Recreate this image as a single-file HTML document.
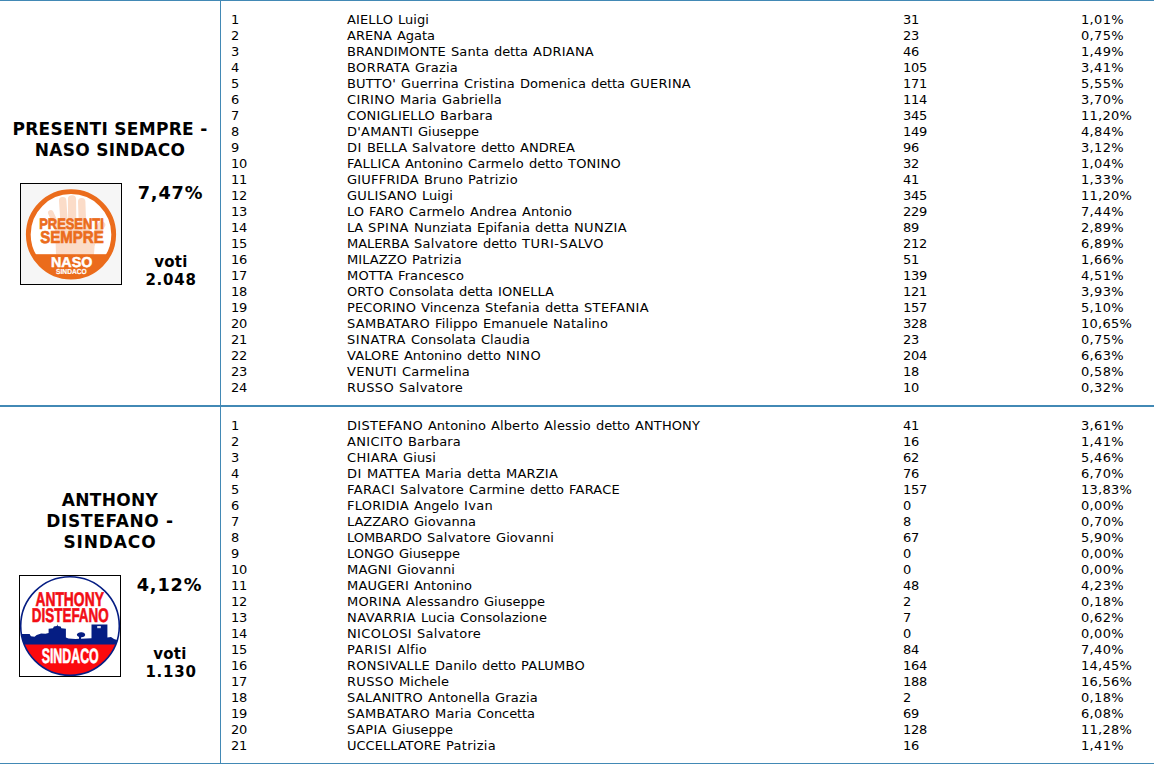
<!DOCTYPE html>
<html lang="it">
<head>
<meta charset="utf-8">
<title>Liste</title>
<style>
html,body{margin:0;padding:0;background:#fff;}
body{width:1154px;height:764px;overflow:hidden;position:relative;font-family:"DejaVu Sans","Liberation Sans",sans-serif;font-size:13px;color:#000;}
.hl{position:absolute;left:0;width:1154px;background:#4289b5;}
.vl{position:absolute;left:220px;width:1px;top:0;height:764px;background:#4289b5;}
.list{position:absolute;left:0;width:1154px;}
.r{position:relative;height:16px;line-height:16px;white-space:nowrap;word-spacing:0.865px;}
.w{display:inline-block;position:static !important;}
.r>span{position:absolute;top:0;}
.c1{left:231px;}
.c2{left:347px;}
.c3{left:903px;}
.c4{left:1081px;}
.title{position:absolute;left:0;width:220px;text-align:center;font-weight:bold;font-size:17px;line-height:21px;letter-spacing:0.3px;}
.lg{position:absolute;display:block;}
.pct{position:absolute;font-weight:bold;font-size:17px;line-height:20px;letter-spacing:0.8px;text-align:center;width:90px;left:125px;}
.pct span{display:inline-block;transform:scaleX(1.04);}
.vn{letter-spacing:0.75px;}
.tb{letter-spacing:0.64px;}
.tc{letter-spacing:0.87px;}
.voti{letter-spacing:0.3px;position:absolute;font-weight:bold;font-size:15px;line-height:18px;text-align:center;width:90px;left:125px;}
</style>
</head>
<body>
<div class="hl" style="top:0;height:1px;"></div>
<div class="hl" style="top:405px;height:2px;"></div>
<div class="hl" style="top:763px;height:1px;"></div>
<div class="vl"></div>

<div class="title" style="top:119px;">PRESENTI SEMPRE -<br>NASO SINDACO</div>
<svg class="lg" style="left:20px;top:183px;" width="102" height="102" viewBox="-1 -1 102 102">
<rect x="-0.5" y="-0.5" width="101" height="101" fill="#f6f6f6" stroke="#000" stroke-width="1"/>
<defs><clipPath id="c1"><circle cx="50" cy="50.4" r="43"/></clipPath></defs>
<circle cx="50" cy="50.4" r="42.7" fill="#fff" stroke="#eb6c1c" stroke-width="4.8"/>
<g fill="none" stroke="#fbdcc8" stroke-linecap="round" stroke-linejoin="round">
<path d="M29.8 28.8 L38 47" stroke-width="5.6"/>
<path d="M41.7 16.8 L43.5 45" stroke-width="7.4"/>
<path d="M51 15.4 L51.3 45" stroke-width="8.2"/>
<path d="M60.7 17.6 L61.6 45" stroke-width="7.4"/>
<path d="M80.5 41 L70 60" stroke-width="7.5"/>
<path d="M36 43 L64 41 L72 56 L71 70 L37 70 Z" stroke-width="4" fill="#fbdcc8"/>
</g>
<rect x="0" y="70.2" width="100" height="40" fill="#eb6c1c" clip-path="url(#c1)"/>
<g font-family="'Liberation Sans',sans-serif" font-weight="bold" text-rendering="geometricPrecision">
<text x="18.2" y="44.6" font-size="15.1" fill="#eb6c1c" stroke="#eb6c1c" stroke-width="0.7" textLength="64.6" lengthAdjust="spacingAndGlyphs">PRESENTI</text>
<text x="19.2" y="59.05" font-size="17.2" fill="#eb6c1c" stroke="#eb6c1c" stroke-width="0.7" textLength="63.5" lengthAdjust="spacingAndGlyphs">SEMPRE</text>
<text x="30" y="82.6" font-size="14.3" fill="#fff" stroke="#fff" stroke-width="0.5" textLength="41.3" lengthAdjust="spacingAndGlyphs">NASO</text>
<text x="35.1" y="89.6" font-size="7.3" fill="#fff" stroke="#fff" stroke-width="0.2" textLength="30.6" lengthAdjust="spacingAndGlyphs">SINDACO</text>
</g>
</svg>
<div class="pct" style="top:183px;"><span>7,47%</span></div>
<div class="voti" style="top:253px;left:126px;">voti<br><span class="vn">2.048</span></div>

<div class="title" style="top:490px;">ANTHONY<br><span class="tb">DISTEFANO -</span><br><span class="tc">SINDACO</span></div>
<svg class="lg" style="left:19px;top:575px;" width="102" height="102" viewBox="-1 -1 102 102">
<rect x="-0.5" y="-0.5" width="101" height="101" fill="#fff" stroke="#000" stroke-width="1"/>
<defs><clipPath id="c2"><circle cx="50" cy="50" r="49.3"/></clipPath></defs>
<g clip-path="url(#c2)">
<rect x="0" y="66" width="100" height="42" fill="#fb0a0e"/>
<path fill="#051d83" d="M0 58 L9.6 58 L10.9 60.2 L14.5 60.7 L16.7 58.9 L21.1 57.6 L25.5 57.7 L28.6 57.1 L28.6 52.7 L33 52.3 L33.9 50.5 L36.8 50 L37.3 48.3 L37.8 50 L40.6 50.5 L41.4 52.3 L45.9 52.7 L45.9 61.5 L48.5 62.4 L55.6 62.9 L59 62.7 L59 61 A4.2 2.5 0 1 1 61.2 61.3 L61 62.7 L66.2 62.4 L71.5 62.2 L71.5 48.5 L87.4 48.5 L87.4 61.5 L91 61.1 L94 62.9 L100 65 L100 68.6 L0 68.6 Z"/>
<rect x="77.2" y="50" width="3.6" height="2.2" fill="#dfe3f3"/>
</g>
<circle cx="50" cy="50" r="49.3" fill="none" stroke="#051d83" stroke-width="1.6"/>
<g font-family="'Liberation Sans',sans-serif" font-weight="bold" text-rendering="geometricPrecision">
<text x="15.4" y="30.3" font-size="19.8" fill="#f20d14" stroke="#f20d14" stroke-width="0.6" textLength="68.5" lengthAdjust="spacingAndGlyphs">ANTHONY</text>
<text x="11.8" y="46.2" font-size="19.8" fill="#f20d14" stroke="#f20d14" stroke-width="0.6" textLength="76.95" lengthAdjust="spacingAndGlyphs">DISTEFANO</text>
<text x="21.7" y="86.7" font-size="20.8" fill="#fff" stroke="#fff" stroke-width="0.6" textLength="57" lengthAdjust="spacingAndGlyphs">SINDACO</text>
</g>
</svg>
<div class="pct" style="top:575px;left:124px;"><span>4,12%</span></div>
<div class="voti" style="top:645px;left:125px;">voti<br><span class="vn" style="position:relative;left:1px;">1.130</span></div>

<div class="list" style="top:12px;">
<div class="r"><span class="c1"><span class="w" style="width:8px;letter-spacing:-0.281px">1</span></span><span class="c2"><span class="w" style="width:46px;letter-spacing:0.133px">AIELLO</span> <span class="w" style="width:31px;letter-spacing:0.053px">Luigi</span></span><span class="c3"><span class="w" style="width:16px;letter-spacing:-0.273px">31</span></span><span class="c4"><span class="w" style="width:43px;letter-spacing:0.338px">1,01%</span></span></div>
<div class="r"><span class="c1"><span class="w" style="width:8px;letter-spacing:-0.281px">2</span></span><span class="c2"><span class="w" style="width:45px;letter-spacing:0.047px">ARENA</span> <span class="w" style="width:38px;letter-spacing:-0.037px">Agata</span></span><span class="c3"><span class="w" style="width:16px;letter-spacing:-0.273px">23</span></span><span class="c4"><span class="w" style="width:43px;letter-spacing:0.338px">0,75%</span></span></div>
<div class="r"><span class="c1"><span class="w" style="width:8px;letter-spacing:-0.281px">3</span></span><span class="c2"><span class="w" style="width:99px;letter-spacing:0.162px">BRANDIMONTE</span> <span class="w" style="width:38px;letter-spacing:0.094px">Santa</span> <span class="w" style="width:34px;letter-spacing:-0.084px">detta</span> <span class="w" style="width:61px;letter-spacing:0.246px">ADRIANA</span></span><span class="c3"><span class="w" style="width:16px;letter-spacing:-0.273px">46</span></span><span class="c4"><span class="w" style="width:43px;letter-spacing:0.338px">1,49%</span></span></div>
<div class="r"><span class="c1"><span class="w" style="width:8px;letter-spacing:-0.281px">4</span></span><span class="c2"><span class="w" style="width:63px;letter-spacing:0.404px">BORRATA</span> <span class="w" style="width:43px;letter-spacing:0.201px">Grazia</span></span><span class="c3"><span class="w" style="width:24px;letter-spacing:-0.276px">105</span></span><span class="c4"><span class="w" style="width:43px;letter-spacing:0.338px">3,41%</span></span></div>
<div class="r"><span class="c1"><span class="w" style="width:8px;letter-spacing:-0.281px">5</span></span><span class="c2"><span class="w" style="width:49px;letter-spacing:0.182px">BUTTO'</span> <span class="w" style="width:58px;letter-spacing:0.176px">Guerrina</span> <span class="w" style="width:51px;letter-spacing:0.158px">Cristina</span> <span class="w" style="width:66px;letter-spacing:0.051px">Domenica</span> <span class="w" style="width:34px;letter-spacing:-0.084px">detta</span> <span class="w" style="width:61px;letter-spacing:0.243px">GUERINA</span></span><span class="c3"><span class="w" style="width:24px;letter-spacing:-0.276px">171</span></span><span class="c4"><span class="w" style="width:43px;letter-spacing:0.338px">5,55%</span></span></div>
<div class="r"><span class="c1"><span class="w" style="width:8px;letter-spacing:-0.281px">6</span></span><span class="c2"><span class="w" style="width:48px;letter-spacing:0.375px">CIRINO</span> <span class="w" style="width:37px;letter-spacing:0.178px">Maria</span> <span class="w" style="width:60px;letter-spacing:0.174px">Gabriella</span></span><span class="c3"><span class="w" style="width:24px;letter-spacing:-0.276px">114</span></span><span class="c4"><span class="w" style="width:43px;letter-spacing:0.338px">3,70%</span></span></div>
<div class="r"><span class="c1"><span class="w" style="width:8px;letter-spacing:-0.281px">7</span></span><span class="c2"><span class="w" style="width:88px;letter-spacing:0.136px">CONIGLIELLO</span> <span class="w" style="width:53px;letter-spacing:0.176px">Barbara</span></span><span class="c3"><span class="w" style="width:24px;letter-spacing:-0.276px">345</span></span><span class="c4"><span class="w" style="width:51px;letter-spacing:0.237px">11,20%</span></span></div>
<div class="r"><span class="c1"><span class="w" style="width:8px;letter-spacing:-0.281px">8</span></span><span class="c2"><span class="w" style="width:66px;letter-spacing:0.238px">D'AMANTI</span> <span class="w" style="width:61px;letter-spacing:-0.025px">Giuseppe</span></span><span class="c3"><span class="w" style="width:24px;letter-spacing:-0.276px">149</span></span><span class="c4"><span class="w" style="width:43px;letter-spacing:0.338px">4,84%</span></span></div>
<div class="r"><span class="c1"><span class="w" style="width:8px;letter-spacing:-0.281px">9</span></span><span class="c2"><span class="w" style="width:15px;letter-spacing:0.570px">DI</span> <span class="w" style="width:40px;letter-spacing:-0.163px">BELLA</span> <span class="w" style="width:64px;letter-spacing:0.266px">Salvatore</span> <span class="w" style="width:34px;letter-spacing:-0.081px">detto</span> <span class="w" style="width:55px;letter-spacing:0.036px">ANDREA</span></span><span class="c3"><span class="w" style="width:16px;letter-spacing:-0.273px">96</span></span><span class="c4"><span class="w" style="width:43px;letter-spacing:0.338px">3,12%</span></span></div>
<div class="r"><span class="c1"><span class="w" style="width:16px;letter-spacing:-0.273px">10</span></span><span class="c2"><span class="w" style="width:53px;letter-spacing:0.219px">FALLICA</span> <span class="w" style="width:58px;letter-spacing:-0.029px">Antonino</span> <span class="w" style="width:56px;letter-spacing:0.230px">Carmelo</span> <span class="w" style="width:34px;letter-spacing:-0.081px">detto</span> <span class="w" style="width:53px;letter-spacing:0.216px">TONINO</span></span><span class="c3"><span class="w" style="width:16px;letter-spacing:-0.273px">32</span></span><span class="c4"><span class="w" style="width:43px;letter-spacing:0.338px">1,04%</span></span></div>
<div class="r"><span class="c1"><span class="w" style="width:16px;letter-spacing:-0.273px">11</span></span><span class="c2"><span class="w" style="width:72px;letter-spacing:0.231px">GIUFFRIDA</span> <span class="w" style="width:39px;letter-spacing:0.059px">Bruno</span> <span class="w" style="width:50px;letter-spacing:0.291px">Patrizio</span></span><span class="c3"><span class="w" style="width:16px;letter-spacing:-0.273px">41</span></span><span class="c4"><span class="w" style="width:43px;letter-spacing:0.338px">1,33%</span></span></div>
<div class="r"><span class="c1"><span class="w" style="width:16px;letter-spacing:-0.273px">12</span></span><span class="c2"><span class="w" style="width:70px;letter-spacing:0.248px">GULISANO</span> <span class="w" style="width:31px;letter-spacing:0.053px">Luigi</span></span><span class="c3"><span class="w" style="width:24px;letter-spacing:-0.276px">345</span></span><span class="c4"><span class="w" style="width:51px;letter-spacing:0.237px">11,20%</span></span></div>
<div class="r"><span class="c1"><span class="w" style="width:16px;letter-spacing:-0.273px">13</span></span><span class="c2"><span class="w" style="width:17px;letter-spacing:-0.008px">LO</span> <span class="w" style="width:35px;letter-spacing:0.137px">FARO</span> <span class="w" style="width:56px;letter-spacing:0.230px">Carmelo</span> <span class="w" style="width:47px;letter-spacing:0.096px">Andrea</span> <span class="w" style="width:50px;letter-spacing:0.000px">Antonio</span></span><span class="c3"><span class="w" style="width:24px;letter-spacing:-0.276px">229</span></span><span class="c4"><span class="w" style="width:43px;letter-spacing:0.338px">7,44%</span></span></div>
<div class="r"><span class="c1"><span class="w" style="width:16px;letter-spacing:-0.273px">14</span></span><span class="c2"><span class="w" style="width:16px;letter-spacing:-0.219px">LA</span> <span class="w" style="width:41px;letter-spacing:0.491px">SPINA</span> <span class="w" style="width:58px;letter-spacing:0.041px">Nunziata</span> <span class="w" style="width:53px;letter-spacing:0.068px">Epifania</span> <span class="w" style="width:34px;letter-spacing:-0.084px">detta</span> <span class="w" style="width:53px;letter-spacing:0.398px">NUNZIA</span></span><span class="c3"><span class="w" style="width:16px;letter-spacing:-0.273px">89</span></span><span class="c4"><span class="w" style="width:43px;letter-spacing:0.338px">2,89%</span></span></div>
<div class="r"><span class="c1"><span class="w" style="width:16px;letter-spacing:-0.273px">15</span></span><span class="c2"><span class="w" style="width:62px;letter-spacing:-0.060px">MALERBA</span> <span class="w" style="width:64px;letter-spacing:0.266px">Salvatore</span> <span class="w" style="width:34px;letter-spacing:-0.081px">detto</span> <span class="w" style="width:82px;letter-spacing:0.487px">TURI-SALVO</span></span><span class="c3"><span class="w" style="width:24px;letter-spacing:-0.276px">212</span></span><span class="c4"><span class="w" style="width:43px;letter-spacing:0.338px">6,89%</span></span></div>
<div class="r"><span class="c1"><span class="w" style="width:16px;letter-spacing:-0.273px">16</span></span><span class="c2"><span class="w" style="width:60px;letter-spacing:0.067px">MILAZZO</span> <span class="w" style="width:50px;letter-spacing:0.289px">Patrizia</span></span><span class="c3"><span class="w" style="width:16px;letter-spacing:-0.273px">51</span></span><span class="c4"><span class="w" style="width:43px;letter-spacing:0.338px">1,66%</span></span></div>
<div class="r"><span class="c1"><span class="w" style="width:16px;letter-spacing:-0.273px">17</span></span><span class="c2"><span class="w" style="width:46px;letter-spacing:0.200px">MOTTA</span> <span class="w" style="width:66px;letter-spacing:0.099px">Francesco</span></span><span class="c3"><span class="w" style="width:24px;letter-spacing:-0.276px">139</span></span><span class="c4"><span class="w" style="width:43px;letter-spacing:0.338px">4,51%</span></span></div>
<div class="r"><span class="c1"><span class="w" style="width:16px;letter-spacing:-0.273px">18</span></span><span class="c2"><span class="w" style="width:37px;letter-spacing:0.125px">ORTO</span> <span class="w" style="width:65px;letter-spacing:0.040px">Consolata</span> <span class="w" style="width:34px;letter-spacing:-0.084px">detta</span> <span class="w" style="width:56px;letter-spacing:0.045px">IONELLA</span></span><span class="c3"><span class="w" style="width:24px;letter-spacing:-0.276px">121</span></span><span class="c4"><span class="w" style="width:43px;letter-spacing:0.338px">3,93%</span></span></div>
<div class="r"><span class="c1"><span class="w" style="width:16px;letter-spacing:-0.273px">19</span></span><span class="c2"><span class="w" style="width:69px;letter-spacing:0.102px">PECORINO</span> <span class="w" style="width:59px;letter-spacing:0.045px">Vincenza</span> <span class="w" style="width:55px;letter-spacing:0.160px">Stefania</span> <span class="w" style="width:34px;letter-spacing:-0.084px">detta</span> <span class="w" style="width:65px;letter-spacing:0.369px">STEFANIA</span></span><span class="c3"><span class="w" style="width:24px;letter-spacing:-0.276px">157</span></span><span class="c4"><span class="w" style="width:43px;letter-spacing:0.338px">5,10%</span></span></div>
<div class="r"><span class="c1"><span class="w" style="width:16px;letter-spacing:-0.273px">20</span></span><span class="c2"><span class="w" style="width:83px;letter-spacing:0.278px">SAMBATARO</span> <span class="w" style="width:43px;letter-spacing:0.167px">Filippo</span> <span class="w" style="width:65px;letter-spacing:0.008px">Emanuele</span> <span class="w" style="width:55px;letter-spacing:0.104px">Natalino</span></span><span class="c3"><span class="w" style="width:24px;letter-spacing:-0.276px">328</span></span><span class="c4"><span class="w" style="width:51px;letter-spacing:0.237px">10,65%</span></span></div>
<div class="r"><span class="c1"><span class="w" style="width:16px;letter-spacing:-0.273px">21</span></span><span class="c2"><span class="w" style="width:59px;letter-spacing:0.565px">SINATRA</span> <span class="w" style="width:65px;letter-spacing:0.040px">Consolata</span> <span class="w" style="width:49px;letter-spacing:0.038px">Claudia</span></span><span class="c3"><span class="w" style="width:16px;letter-spacing:-0.273px">23</span></span><span class="c4"><span class="w" style="width:43px;letter-spacing:0.338px">0,75%</span></span></div>
<div class="r"><span class="c1"><span class="w" style="width:16px;letter-spacing:-0.273px">22</span></span><span class="c2"><span class="w" style="width:52px;letter-spacing:0.130px">VALORE</span> <span class="w" style="width:58px;letter-spacing:-0.029px">Antonino</span> <span class="w" style="width:34px;letter-spacing:-0.081px">detto</span> <span class="w" style="width:35px;letter-spacing:0.371px">NINO</span></span><span class="c3"><span class="w" style="width:24px;letter-spacing:-0.276px">204</span></span><span class="c4"><span class="w" style="width:43px;letter-spacing:0.338px">6,63%</span></span></div>
<div class="r"><span class="c1"><span class="w" style="width:16px;letter-spacing:-0.273px">23</span></span><span class="c2"><span class="w" style="width:50px;letter-spacing:0.312px">VENUTI</span> <span class="w" style="width:68px;letter-spacing:0.193px">Carmelina</span></span><span class="c3"><span class="w" style="width:16px;letter-spacing:-0.273px">18</span></span><span class="c4"><span class="w" style="width:43px;letter-spacing:0.338px">0,58%</span></span></div>
<div class="r"><span class="c1"><span class="w" style="width:16px;letter-spacing:-0.273px">24</span></span><span class="c2"><span class="w" style="width:47px;letter-spacing:0.341px">RUSSO</span> <span class="w" style="width:64px;letter-spacing:0.266px">Salvatore</span></span><span class="c3"><span class="w" style="width:16px;letter-spacing:-0.273px">10</span></span><span class="c4"><span class="w" style="width:43px;letter-spacing:0.338px">0,32%</span></span></div>
</div>
<div class="list" style="top:418px;">
<div class="r"><span class="c1"><span class="w" style="width:8px;letter-spacing:-0.281px">1</span></span><span class="c2"><span class="w" style="width:76px;letter-spacing:0.290px">DISTEFANO</span> <span class="w" style="width:58px;letter-spacing:-0.029px">Antonino</span> <span class="w" style="width:48px;letter-spacing:0.121px">Alberto</span> <span class="w" style="width:47px;letter-spacing:0.196px">Alessio</span> <span class="w" style="width:34px;letter-spacing:-0.081px">detto</span> <span class="w" style="width:65px;letter-spacing:0.109px">ANTHONY</span></span><span class="c3"><span class="w" style="width:16px;letter-spacing:-0.273px">41</span></span><span class="c4"><span class="w" style="width:43px;letter-spacing:0.338px">3,61%</span></span></div>
<div class="r"><span class="c1"><span class="w" style="width:8px;letter-spacing:-0.281px">2</span></span><span class="c2"><span class="w" style="width:56px;letter-spacing:0.350px">ANICITO</span> <span class="w" style="width:53px;letter-spacing:0.176px">Barbara</span></span><span class="c3"><span class="w" style="width:16px;letter-spacing:-0.273px">16</span></span><span class="c4"><span class="w" style="width:43px;letter-spacing:0.338px">1,41%</span></span></div>
<div class="r"><span class="c1"><span class="w" style="width:8px;letter-spacing:-0.281px">3</span></span><span class="c2"><span class="w" style="width:51px;letter-spacing:0.336px">CHIARA</span> <span class="w" style="width:33px;letter-spacing:0.138px">Giusi</span></span><span class="c3"><span class="w" style="width:16px;letter-spacing:-0.273px">62</span></span><span class="c4"><span class="w" style="width:43px;letter-spacing:0.338px">5,46%</span></span></div>
<div class="r"><span class="c1"><span class="w" style="width:8px;letter-spacing:-0.281px">4</span></span><span class="c2"><span class="w" style="width:15px;letter-spacing:0.570px">DI</span> <span class="w" style="width:53px;letter-spacing:0.188px">MATTEA</span> <span class="w" style="width:37px;letter-spacing:0.178px">Maria</span> <span class="w" style="width:34px;letter-spacing:-0.084px">detta</span> <span class="w" style="width:52px;letter-spacing:0.203px">MARZIA</span></span><span class="c3"><span class="w" style="width:16px;letter-spacing:-0.273px">76</span></span><span class="c4"><span class="w" style="width:43px;letter-spacing:0.338px">6,70%</span></span></div>
<div class="r"><span class="c1"><span class="w" style="width:8px;letter-spacing:-0.281px">5</span></span><span class="c2"><span class="w" style="width:48px;letter-spacing:0.456px">FARACI</span> <span class="w" style="width:64px;letter-spacing:0.266px">Salvatore</span> <span class="w" style="width:56px;letter-spacing:0.188px">Carmine</span> <span class="w" style="width:34px;letter-spacing:-0.081px">detto</span> <span class="w" style="width:51px;letter-spacing:0.227px">FARACE</span></span><span class="c3"><span class="w" style="width:24px;letter-spacing:-0.276px">157</span></span><span class="c4"><span class="w" style="width:51px;letter-spacing:0.237px">13,83%</span></span></div>
<div class="r"><span class="c1"><span class="w" style="width:8px;letter-spacing:-0.281px">6</span></span><span class="c2"><span class="w" style="width:62px;letter-spacing:0.238px">FLORIDIA</span> <span class="w" style="width:45px;letter-spacing:0.008px">Angelo</span> <span class="w" style="width:29px;letter-spacing:0.316px">Ivan</span></span><span class="c3"><span class="w" style="width:8px;letter-spacing:-0.281px">0</span></span><span class="c4"><span class="w" style="width:43px;letter-spacing:0.338px">0,00%</span></span></div>
<div class="r"><span class="c1"><span class="w" style="width:8px;letter-spacing:-0.281px">7</span></span><span class="c2"><span class="w" style="width:62px;letter-spacing:-0.058px">LAZZARO</span> <span class="w" style="width:62px;letter-spacing:0.031px">Giovanna</span></span><span class="c3"><span class="w" style="width:8px;letter-spacing:-0.281px">8</span></span><span class="c4"><span class="w" style="width:43px;letter-spacing:0.338px">0,70%</span></span></div>
<div class="r"><span class="c1"><span class="w" style="width:8px;letter-spacing:-0.281px">8</span></span><span class="c2"><span class="w" style="width:75px;letter-spacing:-0.041px">LOMBARDO</span> <span class="w" style="width:64px;letter-spacing:0.266px">Salvatore</span> <span class="w" style="width:58px;letter-spacing:0.076px">Giovanni</span></span><span class="c3"><span class="w" style="width:16px;letter-spacing:-0.273px">67</span></span><span class="c4"><span class="w" style="width:43px;letter-spacing:0.338px">5,90%</span></span></div>
<div class="r"><span class="c1"><span class="w" style="width:8px;letter-spacing:-0.281px">9</span></span><span class="c2"><span class="w" style="width:47px;letter-spacing:-0.009px">LONGO</span> <span class="w" style="width:61px;letter-spacing:-0.025px">Giuseppe</span></span><span class="c3"><span class="w" style="width:8px;letter-spacing:-0.281px">0</span></span><span class="c4"><span class="w" style="width:43px;letter-spacing:0.338px">0,00%</span></span></div>
<div class="r"><span class="c1"><span class="w" style="width:16px;letter-spacing:-0.273px">10</span></span><span class="c2"><span class="w" style="width:45px;letter-spacing:0.297px">MAGNI</span> <span class="w" style="width:58px;letter-spacing:0.076px">Giovanni</span></span><span class="c3"><span class="w" style="width:8px;letter-spacing:-0.281px">0</span></span><span class="c4"><span class="w" style="width:43px;letter-spacing:0.338px">0,00%</span></span></div>
<div class="r"><span class="c1"><span class="w" style="width:16px;letter-spacing:-0.273px">11</span></span><span class="c2"><span class="w" style="width:62px;letter-spacing:0.174px">MAUGERI</span> <span class="w" style="width:58px;letter-spacing:-0.029px">Antonino</span></span><span class="c3"><span class="w" style="width:16px;letter-spacing:-0.273px">48</span></span><span class="c4"><span class="w" style="width:43px;letter-spacing:0.338px">4,23%</span></span></div>
<div class="r"><span class="c1"><span class="w" style="width:16px;letter-spacing:-0.273px">12</span></span><span class="c2"><span class="w" style="width:54px;letter-spacing:0.177px">MORINA</span> <span class="w" style="width:73px;letter-spacing:0.147px">Alessandro</span> <span class="w" style="width:61px;letter-spacing:-0.025px">Giuseppe</span></span><span class="c3"><span class="w" style="width:8px;letter-spacing:-0.281px">2</span></span><span class="c4"><span class="w" style="width:43px;letter-spacing:0.338px">0,18%</span></span></div>
<div class="r"><span class="c1"><span class="w" style="width:16px;letter-spacing:-0.273px">13</span></span><span class="c2"><span class="w" style="width:69px;letter-spacing:0.432px">NAVARRIA</span> <span class="w" style="width:34px;letter-spacing:0.003px">Lucia</span> <span class="w" style="width:87px;letter-spacing:0.066px">Consolazione</span></span><span class="c3"><span class="w" style="width:8px;letter-spacing:-0.281px">7</span></span><span class="c4"><span class="w" style="width:43px;letter-spacing:0.338px">0,62%</span></span></div>
<div class="r"><span class="c1"><span class="w" style="width:16px;letter-spacing:-0.273px">14</span></span><span class="c2"><span class="w" style="width:65px;letter-spacing:0.379px">NICOLOSI</span> <span class="w" style="width:64px;letter-spacing:0.266px">Salvatore</span></span><span class="c3"><span class="w" style="width:8px;letter-spacing:-0.281px">0</span></span><span class="c4"><span class="w" style="width:43px;letter-spacing:0.338px">0,00%</span></span></div>
<div class="r"><span class="c1"><span class="w" style="width:16px;letter-spacing:-0.273px">15</span></span><span class="c2"><span class="w" style="width:45px;letter-spacing:0.690px">PARISI</span> <span class="w" style="width:30px;letter-spacing:0.269px">Alfio</span></span><span class="c3"><span class="w" style="width:16px;letter-spacing:-0.273px">84</span></span><span class="c4"><span class="w" style="width:43px;letter-spacing:0.338px">7,40%</span></span></div>
<div class="r"><span class="c1"><span class="w" style="width:16px;letter-spacing:-0.273px">16</span></span><span class="c2"><span class="w" style="width:83px;letter-spacing:0.227px">RONSIVALLE</span> <span class="w" style="width:42px;letter-spacing:0.099px">Danilo</span> <span class="w" style="width:34px;letter-spacing:-0.081px">detto</span> <span class="w" style="width:64px;letter-spacing:0.263px">PALUMBO</span></span><span class="c3"><span class="w" style="width:24px;letter-spacing:-0.276px">164</span></span><span class="c4"><span class="w" style="width:51px;letter-spacing:0.237px">14,45%</span></span></div>
<div class="r"><span class="c1"><span class="w" style="width:16px;letter-spacing:-0.273px">17</span></span><span class="c2"><span class="w" style="width:47px;letter-spacing:0.341px">RUSSO</span> <span class="w" style="width:50px;letter-spacing:0.025px">Michele</span></span><span class="c3"><span class="w" style="width:24px;letter-spacing:-0.276px">188</span></span><span class="c4"><span class="w" style="width:51px;letter-spacing:0.237px">16,56%</span></span></div>
<div class="r"><span class="c1"><span class="w" style="width:16px;letter-spacing:-0.273px">18</span></span><span class="c2"><span class="w" style="width:76px;letter-spacing:0.156px">SALANITRO</span> <span class="w" style="width:62px;letter-spacing:0.042px">Antonella</span> <span class="w" style="width:43px;letter-spacing:0.201px">Grazia</span></span><span class="c3"><span class="w" style="width:8px;letter-spacing:-0.281px">2</span></span><span class="c4"><span class="w" style="width:43px;letter-spacing:0.338px">0,18%</span></span></div>
<div class="r"><span class="c1"><span class="w" style="width:16px;letter-spacing:-0.273px">19</span></span><span class="c2"><span class="w" style="width:83px;letter-spacing:0.278px">SAMBATARO</span> <span class="w" style="width:37px;letter-spacing:0.178px">Maria</span> <span class="w" style="width:58px;letter-spacing:-0.072px">Concetta</span></span><span class="c3"><span class="w" style="width:16px;letter-spacing:-0.273px">69</span></span><span class="c4"><span class="w" style="width:43px;letter-spacing:0.338px">6,08%</span></span></div>
<div class="r"><span class="c1"><span class="w" style="width:16px;letter-spacing:-0.273px">20</span></span><span class="c2"><span class="w" style="width:40px;letter-spacing:0.409px">SAPIA</span> <span class="w" style="width:61px;letter-spacing:-0.025px">Giuseppe</span></span><span class="c3"><span class="w" style="width:24px;letter-spacing:-0.276px">128</span></span><span class="c4"><span class="w" style="width:51px;letter-spacing:0.237px">11,28%</span></span></div>
<div class="r"><span class="c1"><span class="w" style="width:16px;letter-spacing:-0.273px">21</span></span><span class="c2"><span class="w" style="width:94px;letter-spacing:0.001px">UCCELLATORE</span> <span class="w" style="width:50px;letter-spacing:0.289px">Patrizia</span></span><span class="c3"><span class="w" style="width:16px;letter-spacing:-0.273px">16</span></span><span class="c4"><span class="w" style="width:43px;letter-spacing:0.338px">1,41%</span></span></div>
</div>
</body>
</html>
